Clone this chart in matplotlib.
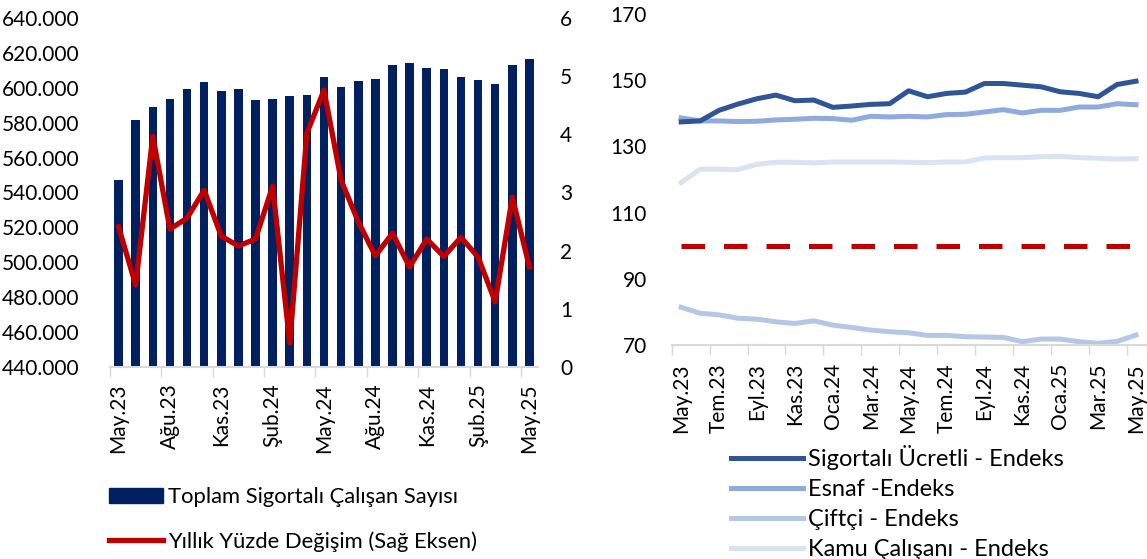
import numpy as np
import matplotlib
matplotlib.use("Agg")
import matplotlib.pyplot as plt
from matplotlib.ticker import FuncFormatter, FixedLocator
from matplotlib.patches import Patch
from matplotlib.lines import Line2D

plt.rcParams['font.family'] = ['Lato', 'DejaVu Sans']
plt.rcParams['font.size'] = 15

# --- left chart data (May.23 .. May.25, monthly) ---
months_left = ["May.23", "Ağu.23", "Kas.23", "Şub.24", "May.24",
               "Ağu.24", "Kas.24", "Şub.25", "May.25"]
employees = [547200, 581400, 589000, 593400, 599100, 603500, 598200, 599100,
             593000, 593400, 595300, 595700, 606000, 600300, 603900, 604900,
             612900, 614000, 611300, 610800, 606200, 604700, 602000, 613100,
             616500]
yoy_change = [2.41, 1.41, 3.97, 2.37, 2.56, 3.04, 2.25, 2.08, 2.20, 3.11,
              0.41, 4.02, 4.76, 3.21, 2.50, 1.91, 2.30, 1.72, 2.20, 1.90,
              2.23, 1.89, 1.12, 2.92, 1.72]

# --- right chart data (index) ---
months_right = ["May.23", "Tem.23", "Eyl.23", "Kas.23", "Oca.24", "Mar.24",
                "May.24", "Tem.24", "Eyl.24", "Kas.24", "Oca.25", "Mar.25",
                "May.25"]
ucretli = [137.4, 137.7, 140.9, 142.8, 144.4, 145.5, 143.8, 144.0, 141.8,
           142.2, 142.7, 142.9, 146.8, 145.0, 146.0, 146.4, 149.0, 149.0,
           148.5, 148.0, 146.5, 146.0, 145.0, 148.7, 149.7]
esnaf = [138.6, 137.7, 137.7, 137.5, 137.6, 138.0, 138.2, 138.5, 138.4,
         137.9, 139.1, 138.9, 139.1, 138.9, 139.6, 139.7, 140.4, 141.1,
         140.1, 140.9, 140.9, 141.9, 141.9, 142.9, 142.6]
ciftci = [81.4, 79.6, 79.1, 78.1, 77.8, 77.0, 76.5, 77.3, 76.0, 75.3, 74.5,
          74.0, 73.7, 72.9, 72.9, 72.5, 72.4, 72.3, 71.0, 71.8, 71.8, 71.0,
          70.5, 71.1, 73.0]
kamu = [119.1, 123.1, 123.1, 123.0, 124.6, 125.2, 125.2, 125.0, 125.3,
        125.3, 125.3, 125.3, 125.2, 125.1, 125.3, 125.3, 126.5, 126.6,
        126.6, 126.9, 127.0, 126.6, 126.4, 126.2, 126.3]
base = [100] * 25

navy = '#002060'
red = '#C00000'
axis_gray = '#D9D9D9'

W, H = 1147, 559
fig = plt.figure(figsize=(W / 100, H / 100), dpi=100)

x = np.arange(len(employees))

# ---------------- left chart ----------------
ax = fig.add_axes([110 / W, 192 / H, 428 / W, 349 / H])
ax.bar(x, employees, width=0.5, color=navy, zorder=2)
ax.set_ylim(440000, 640000)
ax.set_yticks(np.arange(440000, 640001, 20000))
ax.yaxis.set_major_formatter(FuncFormatter(lambda v, p: f"{int(v):,}".replace(",", ".")))
ax.set_xlim(-0.5, len(x) - 0.5)
ax.xaxis.set_major_locator(FixedLocator(np.arange(0, 25, 3)))
ax.set_xticklabels(months_left, rotation=90)
ax.xaxis.set_minor_locator(FixedLocator(np.arange(-0.5, 24, 3)))
ax.tick_params(axis='x', which='major', length=0, pad=12)
ax.tick_params(axis='x', which='minor', length=7, color=axis_gray, width=1)
ax.tick_params(axis='y', length=0, pad=22)
for s in ['top', 'right', 'left']:
    ax.spines[s].set_visible(False)
ax.spines['bottom'].set_color(axis_gray)
ax.spines['bottom'].set_linewidth(1.5)

ax2 = ax.twinx()
ax2.plot(x, yoy_change, color=red, lw=3.8, solid_joinstyle='round', zorder=3)
ax2.set_ylim(0, 6)
ax2.set_yticks(range(0, 7))
ax2.tick_params(axis='y', length=0, pad=16)
for s in ['top', 'right', 'left', 'bottom']:
    ax2.spines[s].set_visible(False)

fig.legend(handles=[Patch(color=navy, label="Toplam Sigortalı Çalışan Sayısı"),
                    Line2D([], [], color=red, lw=3.8, label="Yıllık Yüzde Değişim (Sağ Eksen)")],
           loc='upper left', bbox_to_anchor=(109 / W, 1 - 487 / H), frameon=False,
           fontsize=15.8, handlelength=2.45, handletextpad=0.25, labelspacing=1.12,
           borderpad=0, borderaxespad=0)

# ---------------- right chart ----------------
bx = fig.add_axes([671.7 / W, 214 / H, 473.8 / W, 331 / H])
bx.plot(x, base, color=red, lw=3.6, dashes=(4.7, 3.8), dash_capstyle='butt')
bx.plot(x, kamu, color='#DAE3F3', lw=3.6, label="Kamu Çalışanı - Endeks")
bx.plot(x, ciftci, color='#B4C7E7', lw=3.6, label="Çiftçi - Endeks")
bx.plot(x, esnaf, color='#8FAADC', lw=3.6, label="Esnaf -Endeks")
bx.plot(x, ucretli, color='#2F5597', lw=3.6, label="Sigortalı Ücretli - Endeks")
bx.set_ylim(70, 170)
bx.set_yticks(range(70, 171, 20))
bx.set_xlim(-0.5, 24.5)
bx.xaxis.set_major_locator(FixedLocator(np.arange(0, 25, 2)))
bx.set_xticklabels(months_right, rotation=90)
bx.xaxis.set_minor_locator(FixedLocator(np.arange(-0.5, 24, 2)))
bx.tick_params(axis='x', which='major', length=0, pad=13)
bx.tick_params(axis='x', which='minor', length=7, color=axis_gray, width=1)
bx.tick_params(axis='y', length=0, pad=18)
for s in ['top', 'right', 'left']:
    bx.spines[s].set_visible(False)
bx.spines['bottom'].set_color(axis_gray)
bx.spines['bottom'].set_linewidth(1.5)

h, l = bx.get_legend_handles_labels()
fig.legend(h[::-1], l[::-1], loc='upper left', bbox_to_anchor=(731 / W, 1 - 445 / H),
           frameon=False, fontsize=17, handlelength=3.05, handletextpad=0.2,
           labelspacing=0.38, borderpad=0, borderaxespad=0)

fig.savefig("out.png", dpi=100)
